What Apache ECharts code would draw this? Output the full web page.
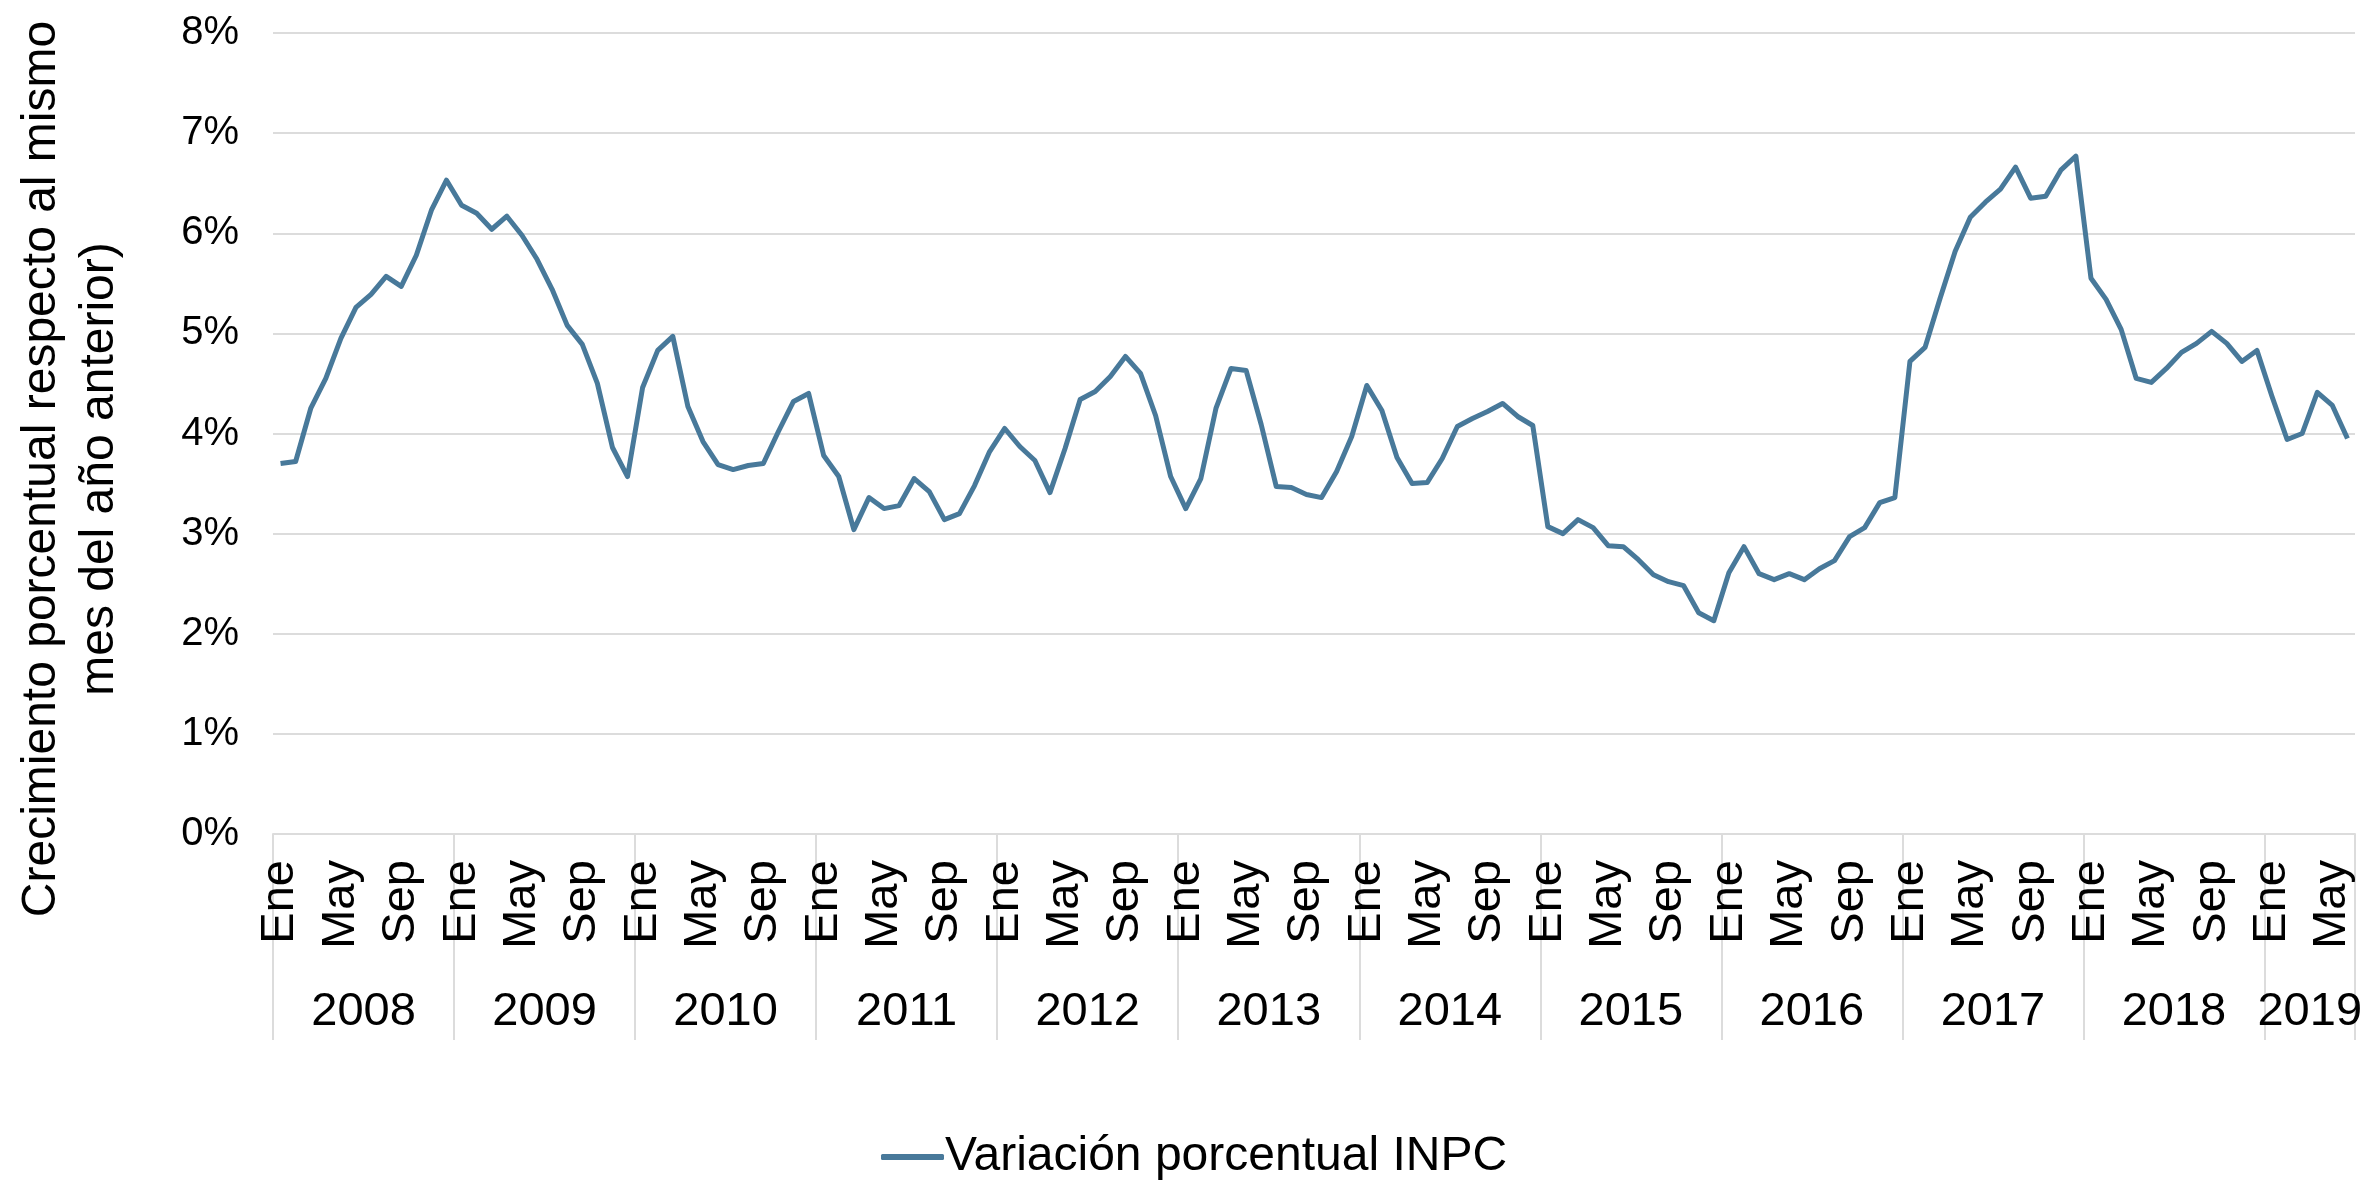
<!DOCTYPE html>
<html>
<head>
<meta charset="utf-8">
<script src="https://cdn.jsdelivr.net/npm/echarts@6/dist/echarts.min.js"></script>
<style>
	html, body { margin: 0; padding: 0; background: #fff; }
	#lineEchart { width: 2369px; height: 1180px; }
</style>
</head>
<body>
<div id="lineEchart"></div>
<script>
// 每年的月度数据（同比变化 %）
var inpc2008 = [3.70, 3.72, 4.25, 4.55, 4.95, 5.26, 5.39, 5.57, 5.47, 5.78, 6.23, 6.53];
var inpc2009 = [6.28, 6.20, 6.04, 6.17, 5.98, 5.74, 5.44, 5.08, 4.89, 4.50, 3.86, 3.57];
var inpc2010 = [4.46, 4.83, 4.97, 4.27, 3.92, 3.69, 3.64, 3.68, 3.70, 4.02, 4.32, 4.40];
var inpc2011 = [3.78, 3.57, 3.04, 3.36, 3.25, 3.28, 3.55, 3.42, 3.14, 3.20, 3.48, 3.82];
var inpc2012 = [4.05, 3.87, 3.73, 3.41, 3.85, 4.34, 4.42, 4.57, 4.77, 4.60, 4.18, 3.57];
var inpc2013 = [3.25, 3.55, 4.25, 4.65, 4.63, 4.09, 3.47, 3.46, 3.39, 3.36, 3.62, 3.97];
var inpc2014 = [4.48, 4.23, 3.76, 3.50, 3.51, 3.75, 4.07, 4.15, 4.22, 4.30, 4.17, 4.08];
var inpc2015 = [3.07, 3.00, 3.14, 3.06, 2.88, 2.87, 2.74, 2.59, 2.52, 2.48, 2.21, 2.13];
var inpc2016 = [2.61, 2.87, 2.60, 2.54, 2.60, 2.54, 2.65, 2.73, 2.97, 3.06, 3.31, 3.36];
var inpc2017 = [4.72, 4.86, 5.35, 5.82, 6.16, 6.31, 6.44, 6.66, 6.35, 6.37, 6.63, 6.77];
var inpc2018 = [5.55, 5.34, 5.04, 4.55, 4.51, 4.65, 4.81, 4.90, 5.02, 4.90, 4.72, 4.83];
var inpc2019 = [4.37, 3.94, 4.00, 4.41, 4.28, 3.95];

var years = ['2008', '2009', '2010', '2011', '2012', '2013', '2014', '2015', '2016', '2017', '2018', '2019'];
var monthNames = ['Ene', 'Feb', 'Mar', 'Abr', 'May', 'Jun', 'Jul', 'Ago', 'Sep', 'Oct', 'Nov', 'Dic'];
var yTicks = [0, 1, 2, 3, 4, 5, 6, 7, 8];
var seriesName = 'Variación porcentual INPC';
var axisTitle = 'Crecimiento porcentual respecto al mismo\nmes del año anterior)';

$ready();

function $ready() {
	var myChart = echarts.init(document.getElementById('lineEchart'));

	var yearData = [inpc2008, inpc2009, inpc2010, inpc2011, inpc2012, inpc2013,
		inpc2014, inpc2015, inpc2016, inpc2017, inpc2018, inpc2019];

	// 拼出X轴（月份）和数据
	var xAxisData = [];
	var seriesData = [];
	for (var y = 0; y < yearData.length; y++) {
		for (var m = 0; m < yearData[y].length; m++) {
			xAxisData.push(monthNames[m]);
			seriesData.push(yearData[y][m]);
		}
	}
	var total = seriesData.length;

	// 第二条X轴：边界点（分隔线）和年份标签（每年中间）
	var yearAxisData = [];
	var yearLabelAt = {};
	var yearTickAt = {};
	var pos = 0;
	for (var y = 0; y < yearData.length; y++) {
		yearTickAt[pos] = true;
		yearLabelAt[pos + yearData[y].length / 2] = years[y];
		pos += yearData[y].length;
	}
	yearTickAt[pos] = true;
	for (var i = 0; i <= total; i++) {
		yearAxisData.push(yearLabelAt[i] || '');
	}

	var font = 'Liberation Sans, Arial, Helvetica, sans-serif';
	var gridColor = '#dcdcdc';

	var option = {
		animation : false,
		color : [ '#48799a' ],
		grid : {
			left : 273,
			right : 14,
			top : 33,
			bottom : 346
		},
		legend : {
			data : [ seriesName ],
			left : 881,
			top : 1133,
			padding : 0,
			icon : 'roundRect',
			itemWidth : 63,
			itemHeight : 6,
			textStyle : {
				fontFamily : font,
				fontSize : 48,
				color : '#000',
				padding : [ 0, 0, 0, -4 ]
			}
		},
		xAxis : [ {
			type : 'category',
			data : xAxisData,
			boundaryGap : true,
			axisLine : {
				lineStyle : { color : gridColor, width : 2 }
			},
			axisTick : { show : false },
			axisLabel : {
				rotate : 90,
				margin : 26,
				interval : function(index) {
					return index % 4 === 0;
				},
				fontFamily : font,
				fontSize : 47,
				color : '#000'
			}
		}, {
			type : 'category',
			data : yearAxisData,
			boundaryGap : false,
			position : 'bottom',
			axisLine : { show : false },
			axisTick : {
				show : true,
				length : 206,
				interval : function(index) {
					return !!yearTickAt[index];
				},
				lineStyle : { color : gridColor, width : 2 }
			},
			axisLabel : {
				margin : 154,
				interval : function(index) {
					return yearAxisData[index] !== '';
				},
				fontFamily : font,
				fontSize : 47,
				lineHeight : 48,
				color : '#000'
			}
		} ],
		yAxis : [ {
			type : 'value',
			min : yTicks[0],
			max : yTicks[yTicks.length - 1],
			interval : 1,
			axisLine : { show : false },
			axisTick : { show : false },
			axisLabel : {
				formatter : '{value}%',
				margin : 34,
				fontFamily : font,
				fontSize : 40,
				color : '#000'
			},
			splitLine : {
				lineStyle : { color : gridColor, width : 2 }
			}
		} ],
		graphic : [ {
			type : 'text',
			x : 71,
			y : 469,
			rotation : Math.PI / 2,
			style : {
				text : axisTitle,
				fontFamily : font,
				fontSize : 48,
				lineHeight : 58,
				fill : '#000',
				align : 'center',
				verticalAlign : 'middle'
			}
		} ],
		series : [ {
			name : seriesName,
			type : 'line',
			xAxisIndex : 0,
			symbol : 'none',
			data : seriesData,
			lineStyle : {
				width : 5,
				join : 'round'
			}
		} ]
	};

	myChart.setOption(option);
}
</script>
</body>
</html>
